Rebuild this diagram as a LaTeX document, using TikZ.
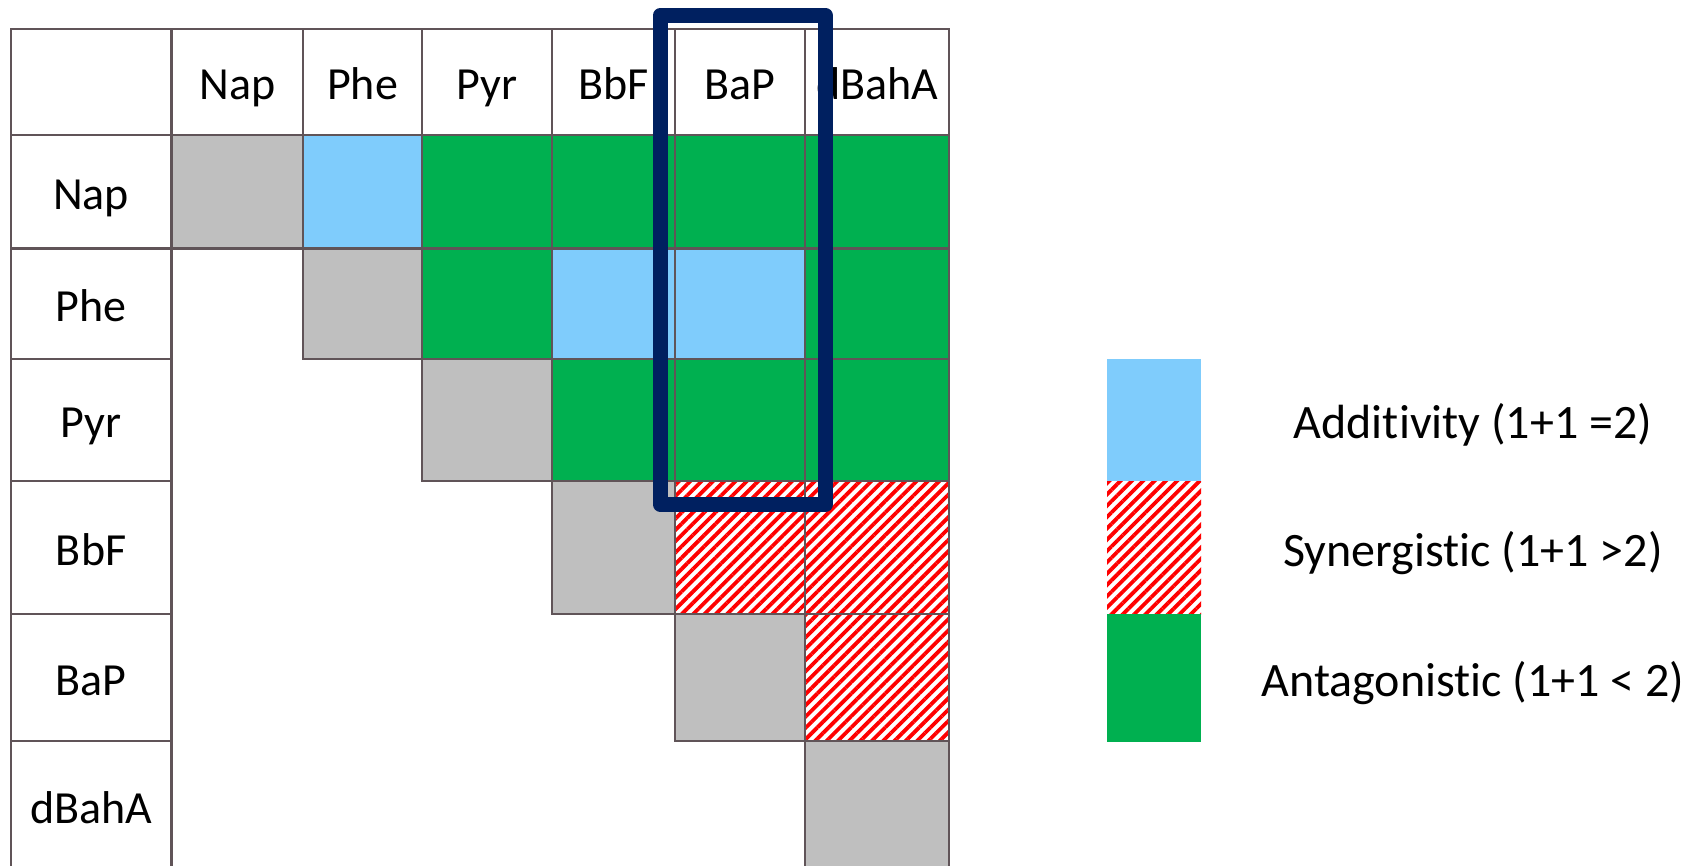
\documentclass[tikz,border=0pt]{standalone}
\usepackage{fontspec}
\setmainfont[Ligatures=NoCommon]{Carlito}
\usetikzlibrary{patterns.meta}
\definecolor{gridc}{HTML}{605458}
\definecolor{addc}{HTML}{7FCCFC}
\definecolor{antc}{HTML}{00B050}
\definecolor{selfc}{HTML}{BFBFBF}
\definecolor{boxc}{HTML}{002060}
\definecolor{sync}{HTML}{FF0000}
\newcommand*\XA{10.8}\newcommand*\XB{171.5}\newcommand*\XC{303}\newcommand*\XD{422}
\newcommand*\XE{552}\newcommand*\XF{675}\newcommand*\XG{805}\newcommand*\XH{949}
\newcommand*\YA{29.2}\newcommand*\YB{135}\newcommand*\YC{248.5}\newcommand*\YD{359}
\newcommand*\YE{481}\newcommand*\YF{614}\newcommand*\YG{741}\newcommand*\YH{870}
\newcommand\tcell[7]{\node[#6, minimum width={(#4)-(#2)}, minimum height={(#5)-(#3)}] (#1) at ({((#2)+(#4))/2},{((#3)+(#5))/2}) {#7};}
\begin{document}
\begin{tikzpicture}[x=1pt,y=-1pt,
  txt/.style={font=\fontsize{46}{55}\selectfont, text height=35pt, text depth=0pt, inner sep=0pt, outer sep=0pt},
  legtxt/.style={font=\fontsize{48}{57}\selectfont, text height=36pt, text depth=0pt, inner sep=0pt, outer sep=0pt},
  cellbox/.style={txt, rectangle, draw=gridc, line width=2.3pt},
  selfcell/.style={cellbox, fill=selfc},
  addcell/.style={cellbox, fill=addc},
  antcell/.style={cellbox, fill=antc},
  hatch/.style={pattern={Lines[angle=45,distance=8pt,line width=3.8pt]}, pattern color=sync},
  syncell/.style={cellbox, hatch},
  legbox/.style={rectangle, inner sep=0pt, outer sep=0pt},
  bluebox/.style={draw=boxc, line width=15.3pt, line join=round}
]
\useasboundingbox (0,0) rectangle (1691,866);
\fill[white] (0,0) rectangle (1691,866);
% header row
\tcell{h0}{\XA}{\YA}{\XB}{\YB}{cellbox}{}
\tcell{h1}{\XB}{\YA}{\XC}{\YB}{cellbox}{Nap}
\tcell{h2}{\XC}{\YA}{\XD}{\YB}{cellbox}{Phe}
\tcell{h3}{\XD}{\YA}{\XE}{\YB}{cellbox}{Pyr}
\tcell{h4}{\XE}{\YA}{\XF}{\YB}{cellbox}{BbF}
\tcell{h5}{\XF}{\YA}{\XG}{\YB}{cellbox}{BaP}
\tcell{h6}{\XG}{\YA}{\XH}{\YB}{cellbox}{dBahA}
% row labels
\tcell{l1}{\XA}{\YB}{\XB}{\YC}{cellbox}{Nap}
\tcell{l2}{\XA}{\YC}{\XB}{\YD}{cellbox}{Phe}
\tcell{l3}{\XA}{\YD}{\XB}{\YE}{cellbox}{Pyr}
\tcell{l4}{\XA}{\YE}{\XB}{\YF}{cellbox}{BbF}
\tcell{l5}{\XA}{\YF}{\XB}{\YG}{cellbox}{BaP}
\tcell{l6}{\XA}{\YG}{\XB}{\YH}{cellbox}{dBahA}
% row 1
\tcell{c11}{\XB}{\YB}{\XC}{\YC}{selfcell}{}
\tcell{c12}{\XC}{\YB}{\XD}{\YC}{addcell}{}
\tcell{c13}{\XD}{\YB}{\XE}{\YC}{antcell}{}
\tcell{c14}{\XE}{\YB}{\XF}{\YC}{antcell}{}
\tcell{c15}{\XF}{\YB}{\XG}{\YC}{antcell}{}
\tcell{c16}{\XG}{\YB}{\XH}{\YC}{antcell}{}
% row 2
\tcell{c22}{\XC}{\YC}{\XD}{\YD}{selfcell}{}
\tcell{c23}{\XD}{\YC}{\XE}{\YD}{antcell}{}
\tcell{c24}{\XE}{\YC}{\XF}{\YD}{addcell}{}
\tcell{c25}{\XF}{\YC}{\XG}{\YD}{addcell}{}
\tcell{c26}{\XG}{\YC}{\XH}{\YD}{antcell}{}
% row 3
\tcell{c33}{\XD}{\YD}{\XE}{\YE}{selfcell}{}
\tcell{c34}{\XE}{\YD}{\XF}{\YE}{antcell}{}
\tcell{c35}{\XF}{\YD}{\XG}{\YE}{antcell}{}
\tcell{c36}{\XG}{\YD}{\XH}{\YE}{antcell}{}
% row 4
\tcell{c44}{\XE}{\YE}{\XF}{\YF}{selfcell}{}
\tcell{c45}{\XF}{\YE}{\XG}{\YF}{syncell}{}
\tcell{c46}{\XG}{\YE}{\XH}{\YF}{syncell}{}
% row 5
\tcell{c55}{\XF}{\YF}{\XG}{\YG}{selfcell}{}
\tcell{c56}{\XG}{\YF}{\XH}{\YG}{syncell}{}
% row 6
\tcell{c66}{\XG}{\YG}{\XH}{\YH}{selfcell}{}
% highlight of the BaP column
\draw[bluebox] (660.4,15.3) rectangle (825.2,504.5);
% legend
\tcell{legAdd}{1107}{359}{1201}{481}{legbox, fill=addc}{}
\tcell{legSyn}{1107}{481}{1201}{614}{legbox, hatch}{}
\tcell{legAnt}{1107}{614}{1201}{741.5}{legbox, fill=antc}{}
\node[legtxt] (legAddT) at (1473,420) {Additivity (1+1 =2)};
\node[legtxt] (legSynT) at (1473,548) {Synergistic (1+1 >2)};
\node[legtxt] (legAntT) at (1473,678) {Antagonistic (1+1 < 2)};
\end{tikzpicture}
\end{document}
